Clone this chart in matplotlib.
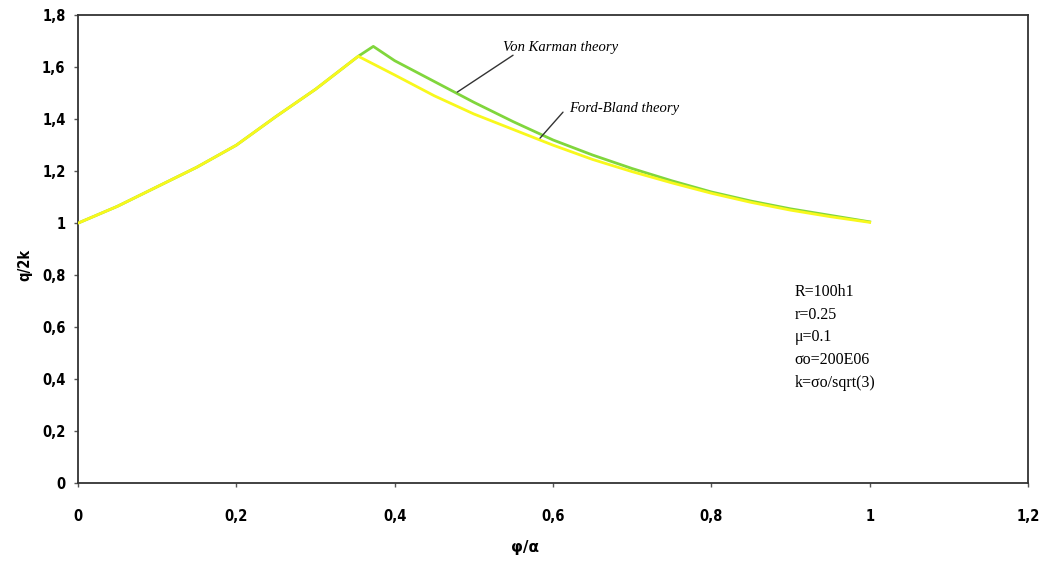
import matplotlib
matplotlib.use("Agg")
import matplotlib.pyplot as plt
from matplotlib.ticker import FuncFormatter

# Von Karman theory (green)
vk_x = [0.0, 0.05, 0.1, 0.15, 0.2, 0.25, 0.3, 0.354, 0.373, 0.4, 0.45, 0.5, 0.55,
        0.6, 0.65, 0.7, 0.75, 0.8, 0.85, 0.9, 0.95, 1.0]
vk_y = [1.0, 1.065, 1.14, 1.215, 1.30, 1.41, 1.515, 1.642, 1.68, 1.625, 1.545, 1.465, 1.39,
        1.32, 1.262, 1.21, 1.163, 1.12, 1.085, 1.055, 1.03, 1.005]

# Ford-Bland theory (yellow)
fb_x = [0.0, 0.05, 0.1, 0.15, 0.2, 0.25, 0.3, 0.354, 0.4, 0.45, 0.5, 0.55,
        0.6, 0.65, 0.7, 0.75, 0.8, 0.85, 0.9, 0.95, 1.0]
fb_y = [1.0, 1.065, 1.14, 1.215, 1.30, 1.41, 1.515, 1.642, 1.57, 1.49, 1.42, 1.36,
        1.30, 1.245, 1.198, 1.155, 1.115, 1.08, 1.05, 1.025, 1.003]

params = ["R=100h1", "r=0.25", "\u03bc=0.1", "\u03c3o=200E06", "k=\u03c3o/sqrt(3)"]

fig = plt.figure(figsize=(10.4, 5.63), dpi=100)
ax = fig.add_axes([0.075, 0.142, 0.9135, 0.831])

ax.plot(vk_x, vk_y, color='#80D63C', linewidth=2.0, zorder=2)
ax.plot(fb_x, fb_y, color='#F8F81C', linewidth=2.0, zorder=3)

ax.set_xlim(0, 1.2)
ax.set_ylim(0, 1.8)
ax.set_xticks([0, 0.2, 0.4, 0.6, 0.8, 1.0, 1.2])
ax.set_yticks([0, 0.2, 0.4, 0.6, 0.8, 1.0, 1.2, 1.4, 1.6, 1.8])

fmt = FuncFormatter(lambda v, p: ('%g' % round(v, 1)).replace('.', ','))
ax.xaxis.set_major_formatter(fmt)
ax.yaxis.set_major_formatter(fmt)

for s in ax.spines.values():
    s.set_color('#333333')
    s.set_linewidth(1.3)

ax.tick_params(axis='both', direction='out', length=3, width=1, color='#555555',
               labelsize=10.5)
ax.tick_params(axis='x', pad=16)
ax.tick_params(axis='y', pad=6)
for lab in ax.get_xticklabels() + ax.get_yticklabels():
    lab.set_fontweight('bold')
    lab.set_fontstretch('condensed')

fig.text(0.024, 0.53, 'q/2k', rotation=90, ha='center', va='center',
         fontsize=10.5, fontweight='bold', fontstretch='condensed')
fig.text(0.505, 0.027, '\u03c6/\u03b1', ha='center', va='center',
         fontsize=11, fontweight='bold')

# curve annotations
ax.text(0.61, 1.677, 'Von Karman theory', fontsize=10.5, fontstyle='italic',
        family='Liberation Serif', ha='center', va='center')
ax.annotate('', xy=(0.479, 1.504), xytext=(0.5495, 1.646),
            arrowprops=dict(arrowstyle='-', color='#333333', lw=1.0,
                            shrinkA=0, shrinkB=0))
ax.text(0.69, 1.442, 'Ford-Bland theory', fontsize=10.5, fontstyle='italic',
        family='Liberation Serif', ha='center', va='center')
ax.annotate('', xy=(0.5836, 1.327), xytext=(0.6126, 1.427),
            arrowprops=dict(arrowstyle='-', color='#333333', lw=1.0,
                            shrinkA=0, shrinkB=0))

for i, t in enumerate(params):
    ax.text(0.905, 0.735 - i * 0.0873, t, fontsize=11.5, family='Liberation Serif',
            ha='left', va='center')

fig.savefig('out.png', dpi=100)
